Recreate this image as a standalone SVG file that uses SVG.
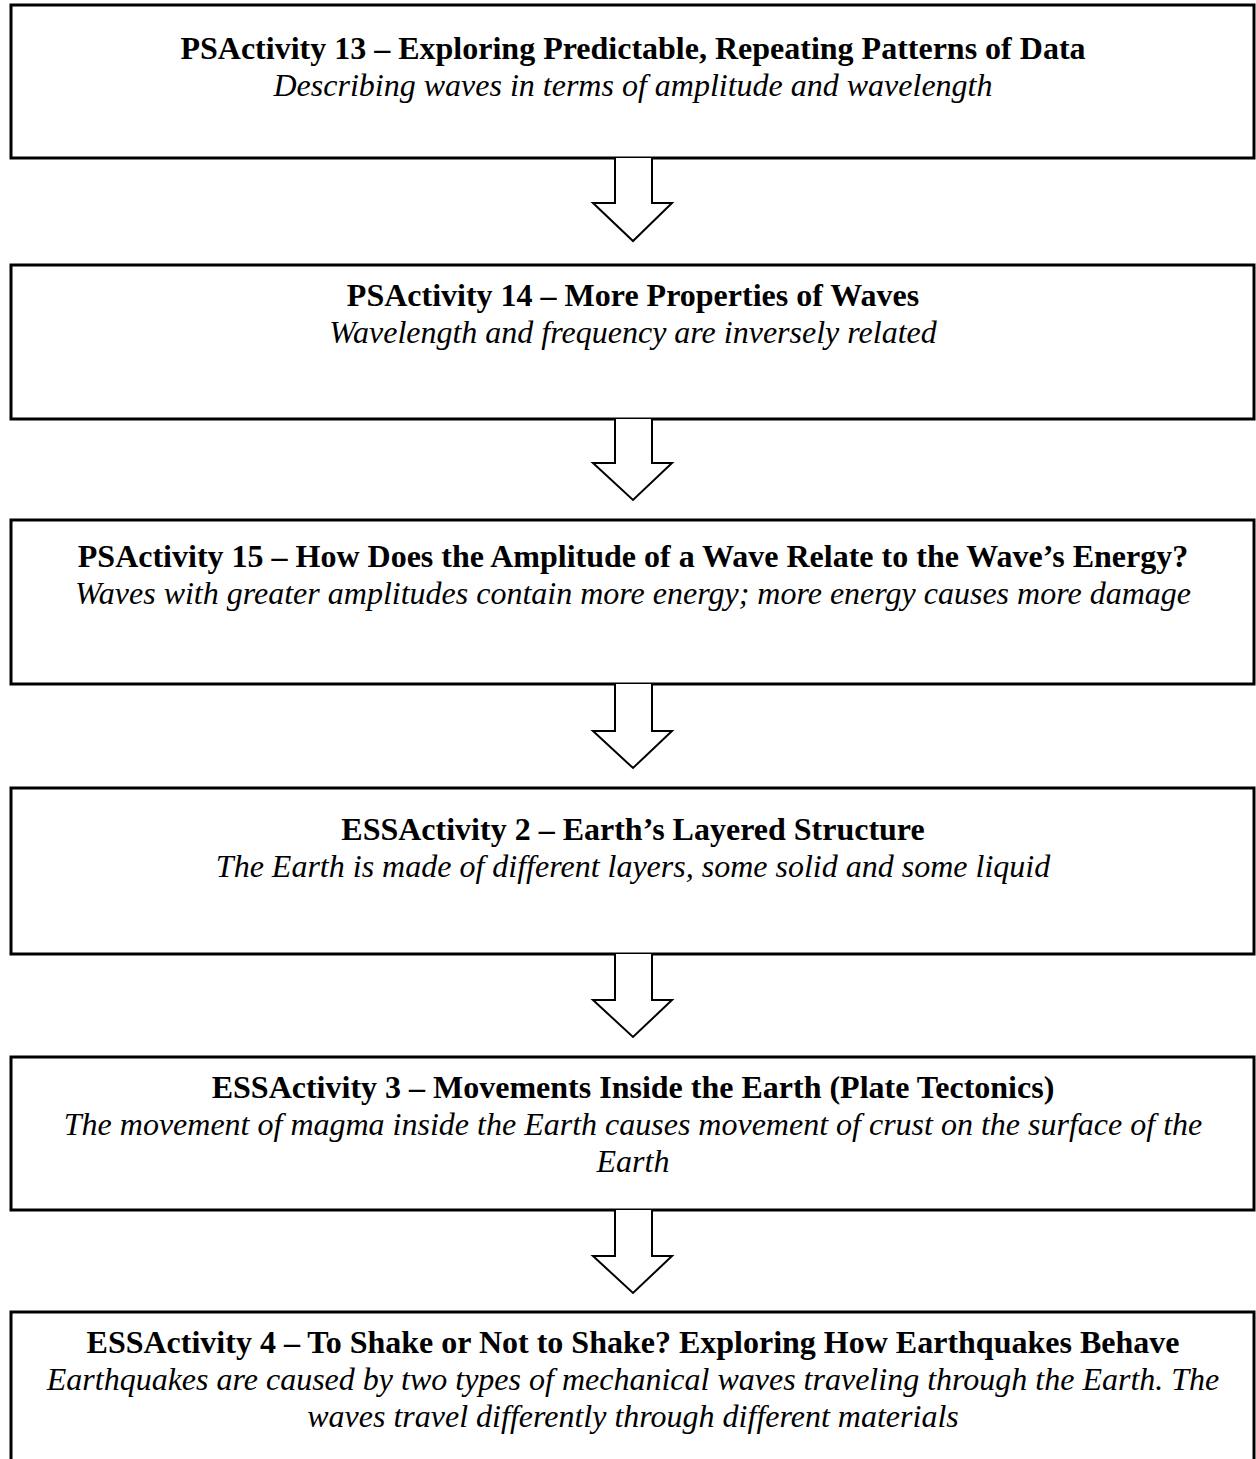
<svg xmlns="http://www.w3.org/2000/svg" width="1256" height="1459" viewBox="0 0 1256 1459">
<style>
.box{fill:#fff;stroke:#000;stroke-width:3}
.arr{fill:#fff;stroke:#000;stroke-width:2;stroke-linejoin:miter}
.t{font-family:"Liberation Serif","Times New Roman",serif;font-size:32px;font-weight:bold;text-anchor:middle;fill:#000}
.s{font-family:"Liberation Serif","Times New Roman",serif;font-size:32px;font-style:italic;text-anchor:middle;fill:#000}
</style>
<rect width="1256" height="1459" fill="#fff"/>
<g id="n1">
<rect class="box" x="11" y="5" width="1243" height="153"/>
<text class="t" x="633" y="59">PSActivity 13 – Exploring Predictable, Repeating Patterns of Data</text>
<text class="s" x="633" y="96">Describing waves in terms of amplitude and wavelength</text>
</g>
<g id="n2">
<rect class="box" x="11" y="265" width="1243" height="154"/>
<text class="t" x="633" y="306">PSActivity 14 – More Properties of Waves</text>
<text class="s" x="633" y="343">Wavelength and frequency are inversely related</text>
</g>
<g id="n3">
<rect class="box" x="11" y="520" width="1243" height="164"/>
<text class="t" x="633" y="567">PSActivity 15 – How Does the Amplitude of a Wave Relate to the Wave’s Energy?</text>
<text class="s" x="633" y="604">Waves with greater amplitudes contain more energy; more energy causes more damage</text>
</g>
<g id="n4">
<rect class="box" x="11" y="788" width="1243" height="166"/>
<text class="t" x="633" y="840">ESSActivity 2 – Earth’s Layered Structure</text>
<text class="s" x="633" y="877">The Earth is made of different layers, some solid and some liquid</text>
</g>
<g id="n5">
<rect class="box" x="11" y="1057" width="1243" height="153"/>
<text class="t" x="633" y="1098">ESSActivity 3 – Movements Inside the Earth (Plate Tectonics)</text>
<text class="s" x="633" y="1135">The movement of magma inside the Earth causes movement of crust on the surface of the</text>
<text class="s" x="633" y="1172">Earth</text>
</g>
<g id="n6">
<rect class="box" x="11" y="1312" width="1243" height="170"/>
<text class="t" x="633" y="1353">ESSActivity 4 – To Shake or Not to Shake? Exploring How Earthquakes Behave</text>
<text class="s" x="633" y="1390">Earthquakes are caused by two types of mechanical waves traveling through the Earth. The</text>
<text class="s" x="633" y="1427">waves travel differently through different materials</text>
</g>
<g id="connectors">
<path class="arr" d="M615,158 V203 H593 L633,241 L672,203 H652 V158"/>
<path class="arr" d="M615,419 V463 H593 L633,500 L672,463 H652 V419"/>
<path class="arr" d="M615,684 V731 H593 L633,768 L672,731 H652 V684"/>
<path class="arr" d="M615,954 V1000 H593 L633,1037 L672,1000 H652 V954"/>
<path class="arr" d="M615,1210 V1256 H593 L633,1293 L672,1256 H652 V1210"/>
</g>
</svg>
